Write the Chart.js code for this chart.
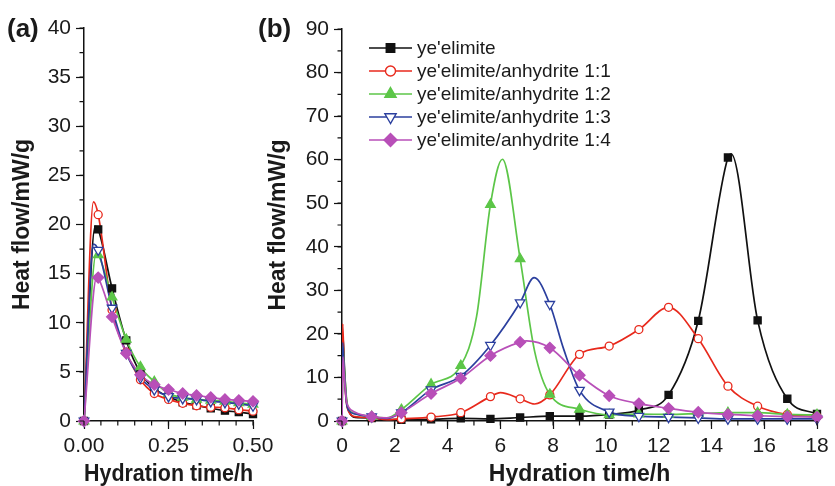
<!DOCTYPE html>
<html>
<head>
<meta charset="utf-8">
<script src="https://cdn.jsdelivr.net/npm/chart.js@4.4.1/dist/chart.umd.min.js"></script>
<style>
  html, body { margin: 0; padding: 0; background: #fff; }
  #wrap { position: relative; width: 835px; height: 486px; overflow: hidden; background: #fff; }
  canvas { position: absolute; top: 0; }
  #chartA { left: 0; }
  #chartB { left: 250px; }
</style>
</head>
<body>
<div id="wrap">
  <canvas id="chartA" width="290" height="486"></canvas>
  <canvas id="chartB" width="585" height="486"></canvas>
</div>
<script>
const seriesNames = ["ye'elimite", "ye'elimite/anhydrite 1:1", "ye'elimite/anhydrite 1:2", "ye'elimite/anhydrite 1:3", "ye'elimite/anhydrite 1:4"];

// panel (a): first half hour, marker times (h)
const timesA = [0, 0.042, 0.083, 0.125, 0.167, 0.208, 0.25, 0.292, 0.333, 0.375, 0.417, 0.458, 0.5];
const yeA   = [0, 19.5, 13.5, 8.2, 4.9, 3.3, 2.5, 1.9, 1.6, 1.3, 1.05, 0.9, 0.7];
const an11A = [0, 21.0, 11.3, 7.0, 4.2, 2.8, 2.2, 1.8, 1.55, 1.4, 1.35, 1.15, 1.0];
const an12A = [0, 16.9, 12.6, 8.3, 5.5, 4.0, 2.8, 2.4, 2.2, 2.1, 2.0, 1.85, 1.7];
const an13A = [0, 17.4, 11.5, 6.9, 4.4, 3.2, 2.5, 2.3, 2.2, 2.0, 1.9, 1.75, 1.55];
const an14A = [0, 14.6, 10.6, 6.9, 4.7, 3.7, 3.2, 2.8, 2.6, 2.4, 2.2, 2.1, 2.0];
// curve points between markers (peaks), [time, heat flow]
const yePeakA   = [[0.033, 19.8]];
const an11PeakA = [[0.028, 22.3]];
const an12PeakA = [[0.036, 17.0]];
const an13PeakA = [[0.028, 18.0]];
const an14PeakA = [[0.038, 14.7]];

// panel (b): 0-18 h, marker times (h)
const timesB = [0, 1.125, 2.25, 3.375, 4.5, 5.625, 6.75, 7.875, 9, 10.125, 11.25, 12.375, 13.5, 14.625, 15.75, 16.875, 18];
const yeB   = [0, 0.7, 0.3, 0.4, 0.6, 0.5, 0.8, 1.1, 1.1, 1.5, 2.5, 6.0, 23.0, 60.5, 23.1, 5.1, 1.6];
const an11B = [0, 0.8, 0.5, 0.9, 1.9, 5.6, 5.1, 6.0, 15.3, 17.2, 21.0, 26.1, 18.9, 8.0, 3.4, 1.5, 1.0];
const an12B = [0, 1.0, 2.6, 8.4, 12.7, 49.7, 37.2, 6.1, 2.7, 1.4, 1.6, 1.5, 1.7, 1.9, 1.9, 1.5, 1.4];
const an13B = [0, 1.0, 1.9, 7.2, 10.3, 17.4, 27.2, 26.8, 7.1, 2.1, 1.1, 0.9, 0.7, 0.5, 0.5, 0.5, 0.5];
const an14B = [0, 1.0, 1.9, 6.3, 9.8, 15.0, 18.1, 16.8, 10.5, 5.8, 4.0, 2.9, 2.0, 1.5, 1.2, 1.0, 0.9];
// curve points between markers (initial spike, dips, peaks), [time, heat flow]
const yeCurveB   = [[0.033, 19.8], [0.083, 13.5], [0.167, 4.9], [0.25, 2.5], [0.5, 0.8], [1.7, 0.3], [14.75, 61.3]];
const an11CurveB = [[0.028, 22.3], [0.083, 11.3], [0.167, 4.2], [0.25, 2.2], [0.5, 1.0], [1.7, 0.3], [6.0, 6.5], [7.3, 3.9]];
const an12CurveB = [[0.036, 17.0], [0.083, 12.6], [0.167, 5.5], [0.25, 2.8], [0.5, 1.7], [1.7, 0.7], [5.1, 24], [6.08, 60.1], [7.3, 16]];
const an13CurveB = [[0.028, 18.0], [0.083, 11.5], [0.167, 4.4], [0.25, 2.5], [0.5, 1.6], [1.7, 0.6], [7.28, 32.9], [8.4, 16.5]];
const an14CurveB = [[0.038, 14.7], [0.083, 10.6], [0.167, 4.7], [0.25, 3.2], [0.5, 2.0], [1.7, 0.7], [7.0, 18.4]];

const styles = [
    { color: '#111111', pointStyle: 'rect',     radius: 5,   fill: '#111111', rotation: 0 },
    { color: '#e8291c', pointStyle: 'circle',   radius: 4,   fill: '#ffffff', rotation: 0 },
    { color: '#5cc648', pointStyle: 'triangle', radius: 5.5, fill: '#5cc648', rotation: 0 },
    { color: '#2b3f9e', pointStyle: 'triangle', radius: 5.5, fill: '#ffffff', rotation: 180 },
    { color: '#b84fb8', pointStyle: 'rectRot',  radius: 5.5, fill: '#b84fb8', rotation: 0 }
];

const FONT = "'Liberation Sans', Arial, Helvetica, sans-serif";
Chart.defaults.font.family = FONT;
Chart.defaults.color = '#1a1a1a';

function markerPoints(times, values) {
    return times.map((t, i) => ({ x: t, y: values[i] }));
}

function curvePoints(times, values, extra) {
    return markerPoints(times, values)
        .concat(extra.map(p => ({ x: p[0], y: p[1] })))
        .sort((a, b) => a.x - b.x);
}

function buildDatasets(times, valueSets, extraSets) {
    const lines = [], marks = [];
    valueSets.forEach((vals, k) => {
        const s = styles[k];
        lines.push({
            label: seriesNames[k],
            data: curvePoints(times, vals, extraSets[k]),
            borderColor: s.color,
            borderWidth: 1.7,
            pointRadius: 0,
            cubicInterpolationMode: 'monotone',
            fill: false,
            order: 20 - k
        });
        marks.push({
            label: seriesNames[k],
            data: markerPoints(times, vals),
            showLine: false,
            pointStyle: s.pointStyle,
            pointRadius: s.radius,
            pointRotation: s.rotation,
            pointBackgroundColor: s.fill,
            pointBorderColor: s.color,
            pointBorderWidth: 1.3,
            clip: false,
            order: 10 - k
        });
    });
    return lines.concat(marks);
}

// short unlabeled ticks between the labelled ones
const minorTicks = {
    id: 'minorTicks',
    afterDraw(chart, args, opts) {
        const ctx = chart.ctx, area = chart.chartArea;
        const xs = chart.scales.x, ys = chart.scales.y;
        ctx.save();
        ctx.strokeStyle = '#111';
        ctx.lineWidth = 1.2;
        ctx.beginPath();
        for (let v = xs.min; v <= xs.max + 1e-9; v += opts.x) {
            const p = xs.getPixelForValue(v);
            ctx.moveTo(p, area.bottom);
            ctx.lineTo(p, area.bottom + opts.len);
        }
        for (let v = ys.min; v <= ys.max + 1e-9; v += opts.y) {
            const p = ys.getPixelForValue(v);
            ctx.moveTo(area.left - opts.len, p);
            ctx.lineTo(area.left, p);
        }
        ctx.stroke();
        ctx.restore();
    }
};

const panelLabel = {
    id: 'panelLabel',
    afterDraw(chart, args, opts) {
        const ctx = chart.ctx;
        ctx.save();
        ctx.font = 'bold 26px ' + FONT;
        ctx.fillStyle = '#1a1a1a';
        ctx.textBaseline = 'middle';
        ctx.fillText(opts.text, opts.x, opts.y);
        ctx.restore();
    }
};

const lineLegend = {
    id: 'lineLegend',
    afterDraw(chart, args, opts) {
        if (!opts.show) return;
        const ctx = chart.ctx;
        const sets = chart.data.datasets.filter(d => d.showLine === false);
        ctx.save();
        ctx.font = '19px ' + FONT;
        ctx.textBaseline = 'middle';
        sets.forEach((d, k) => {
            const y = opts.top + k * opts.gap;
            ctx.strokeStyle = d.pointBorderColor;
            ctx.lineWidth = 1.7;
            ctx.beginPath();
            ctx.moveTo(opts.left, y);
            ctx.lineTo(opts.left + opts.len, y);
            ctx.stroke();
            ctx.fillStyle = d.pointBackgroundColor;
            ctx.lineWidth = 1.4;
            Chart.helpers.drawPoint(ctx, {
                pointStyle: d.pointStyle,
                rotation: d.pointRotation,
                radius: d.pointRadius + 1,
                borderWidth: 1.4
            }, opts.left + opts.len / 2, y);
            ctx.fillStyle = '#1a1a1a';
            ctx.fillText(d.label, opts.left + opts.len + 5, y + 1);
        });
        ctx.restore();
    }
};

function axisOptions(cfg) {
    return {
        x: {
            type: 'linear',
            min: cfg.xMin, max: cfg.xMax,
            afterFit: s => { s.height = cfg.xHeight; },
            border: { color: '#111', width: 1.5 },
            grid: { drawOnChartArea: false, tickLength: 8, tickColor: '#111', tickWidth: 1.2 },
            ticks: {
                stepSize: cfg.xStep, padding: 5, maxRotation: 0, autoSkip: false,
                font: { size: 21 },
                callback: v => cfg.xFmt(v)
            },
            title: {
                display: true, text: 'Hydration time/h',
                font: { size: 23, weight: 'bold' },
                padding: { top: 0, bottom: -2 }
            }
        },
        y: {
            type: 'linear',
            min: 0, max: cfg.yMax,
            afterFit: s => { s.width = cfg.yWidth; },
            border: { color: '#111', width: 1.5 },
            grid: { drawOnChartArea: false, tickLength: 8, tickColor: '#111', tickWidth: 1.2 },
            ticks: { stepSize: cfg.yStep, padding: 5, font: { size: 21 } },
            title: {
                display: true, text: 'Heat flow/mW/g',
                font: { size: 23, weight: 'bold' },
                padding: { top: cfg.yTitlePad, bottom: 0 }
            }
        }
    };
}

new Chart(document.getElementById('chartA').getContext('2d'), {
    type: 'line',
    data: {
        datasets: buildDatasets(timesA, [yeA, an11A, an12A, an13A, an14A],
            [yePeakA, an11PeakA, an12PeakA, an13PeakA, an14PeakA])
    },
    options: {
        responsive: false,
        animation: false,
        layout: { padding: { top: 28, right: 37, bottom: 0, left: 0 } },
        scales: axisOptions({
            xMin: 0, xMax: 0.5, xStep: 0.25, xFmt: v => v.toFixed(2), xHeight: 65,
            yMax: 40, yStep: 5, yWidth: 84, yTitlePad: 9
        }),
        plugins: {
            legend: { display: false },
            tooltip: { enabled: false },
            minorTicks: { x: 0.05, y: 2.5, len: 4.5 },
            panelLabel: { text: '(a)', x: 7, y: 30 },
            lineLegend: { show: false }
        }
    },
    plugins: [minorTicks, panelLabel, lineLegend]
});

new Chart(document.getElementById('chartB').getContext('2d'), {
    type: 'line',
    data: {
        datasets: buildDatasets(timesB, [yeB, an11B, an12B, an13B, an14B],
            [yeCurveB, an11CurveB, an12CurveB, an13CurveB, an14CurveB])
    },
    options: {
        responsive: false,
        animation: false,
        layout: { padding: { top: 29, right: 18, bottom: 0, left: 0 } },
        scales: axisOptions({
            xMin: 0, xMax: 18, xStep: 2, xFmt: v => String(v), xHeight: 65,
            yMax: 90, yStep: 10, yWidth: 92, yTitlePad: 15
        }),
        plugins: {
            legend: { display: false },
            tooltip: { enabled: false },
            minorTicks: { x: 1, y: 5, len: 4.5 },
            panelLabel: { text: '(b)', x: 8, y: 30 },
            lineLegend: { show: true, left: 119, len: 43, top: 48, gap: 23 }
        }
    },
    plugins: [minorTicks, panelLabel, lineLegend]
});
</script>
</body>
</html>
